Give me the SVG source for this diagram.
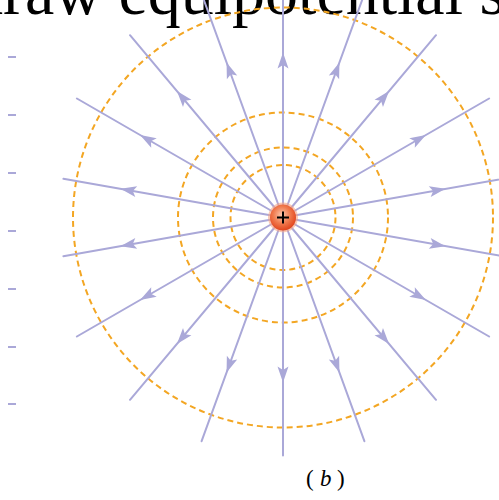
<svg xmlns="http://www.w3.org/2000/svg" xmlns:xlink="http://www.w3.org/1999/xlink" width="499" height="500" viewBox="0 0 499 500">
<style>
.fl{stroke:#aaa8d8;stroke-width:2;fill:none;stroke-linecap:round}
.eq{stroke:#f3a623;stroke-width:2;fill:none;stroke-dasharray:6 4}
.ah{fill:#aaa8d8}
.tk{stroke:#aaa8d8;stroke-width:2}
.serif{font-family:"Liberation Serif","Times New Roman",serif;fill:#000}
</style>
<defs>
<path id="ah" class="ah" d="M448,217.5 L432,212 L435.5,217.5 L432,223 Z"/>
<radialGradient id="cg" cx="0.45" cy="0.4" r="0.6">
<stop offset="0" stop-color="#fcc7ad"/>
<stop offset="0.55" stop-color="#f07a4e"/>
<stop offset="1" stop-color="#e2451d"/>
</radialGradient>
</defs>
<rect width="499" height="500" fill="#fff"/>
<text class="serif" x="-30" y="14" font-size="66">draw equipotential s</text>
<g id="ticks">
<line class="tk" x1="8" y1="57" x2="16" y2="57"/>
<line class="tk" x1="8" y1="115" x2="16" y2="115"/>
<line class="tk" x1="8" y1="173" x2="16" y2="173"/>
<line class="tk" x1="8" y1="231" x2="16" y2="231"/>
<line class="tk" x1="8" y1="289" x2="16" y2="289"/>
<line class="tk" x1="8" y1="347" x2="16" y2="347"/>
<line class="tk" x1="8" y1="404" x2="16" y2="404"/>
</g>
<g id="equipotentials">
<circle class="eq" cx="283" cy="217.5" r="210"/>
<circle class="eq" cx="283" cy="217.5" r="105"/>
<circle class="eq" cx="283" cy="217.5" r="70"/>
<circle class="eq" cx="283" cy="217.5" r="52.5"/>
</g>
<g id="connectors">
<path class="fl" d="M283,217.5L517.4,176.2M283,217.5L489.1,98.5M283,217.5L436,35.2M283,217.5L364.4,-6.2M283,217.5L283,-20.5M283,217.5L201.6,-6.2M283,217.5L130,35.2M283,217.5L76.9,98.5M283,217.5L63.4,178.8M283,217.5L63.4,256.2M283,217.5L76.9,336.5M283,217.5L130,399.8M283,217.5L201.6,441.2M283,217.5L283,455.5M283,217.5L364.4,441.2M283,217.5L436,399.8M283,217.5L489.1,336.5M283,217.5L517.4,258.8"/>
<use xlink:href="#ah" transform="rotate(-10 283 217.5)"/>
<use xlink:href="#ah" transform="rotate(-30 283 217.5)"/>
<use xlink:href="#ah" transform="rotate(-50 283 217.5)"/>
<use xlink:href="#ah" transform="rotate(-70 283 217.5)"/>
<use xlink:href="#ah" transform="rotate(-90 283 217.5)"/>
<use xlink:href="#ah" transform="rotate(-110 283 217.5)"/>
<use xlink:href="#ah" transform="rotate(-130 283 217.5)"/>
<use xlink:href="#ah" transform="rotate(-150 283 217.5)"/>
<use xlink:href="#ah" transform="rotate(-170 283 217.5)"/>
<use xlink:href="#ah" transform="rotate(-190 283 217.5)"/>
<use xlink:href="#ah" transform="rotate(-210 283 217.5)"/>
<use xlink:href="#ah" transform="rotate(-230 283 217.5)"/>
<use xlink:href="#ah" transform="rotate(-250 283 217.5)"/>
<use xlink:href="#ah" transform="rotate(-270 283 217.5)"/>
<use xlink:href="#ah" transform="rotate(-290 283 217.5)"/>
<use xlink:href="#ah" transform="rotate(-310 283 217.5)"/>
<use xlink:href="#ah" transform="rotate(-330 283 217.5)"/>
<use xlink:href="#ah" transform="rotate(-350 283 217.5)"/>
</g>
<g id="charge">
<circle cx="283" cy="217.5" r="15" fill="#f7a585" opacity="0.6"/>
<circle cx="283" cy="217.5" r="13" fill="url(#cg)"/>
<path d="M277,217.5H289M283,211.5V223.5" stroke="#000" stroke-width="2"/>
</g>
<text class="serif" y="486" font-size="23"><tspan x="306">(</tspan><tspan x="320" font-style="italic">b</tspan><tspan x="337">)</tspan></text>
</svg>
